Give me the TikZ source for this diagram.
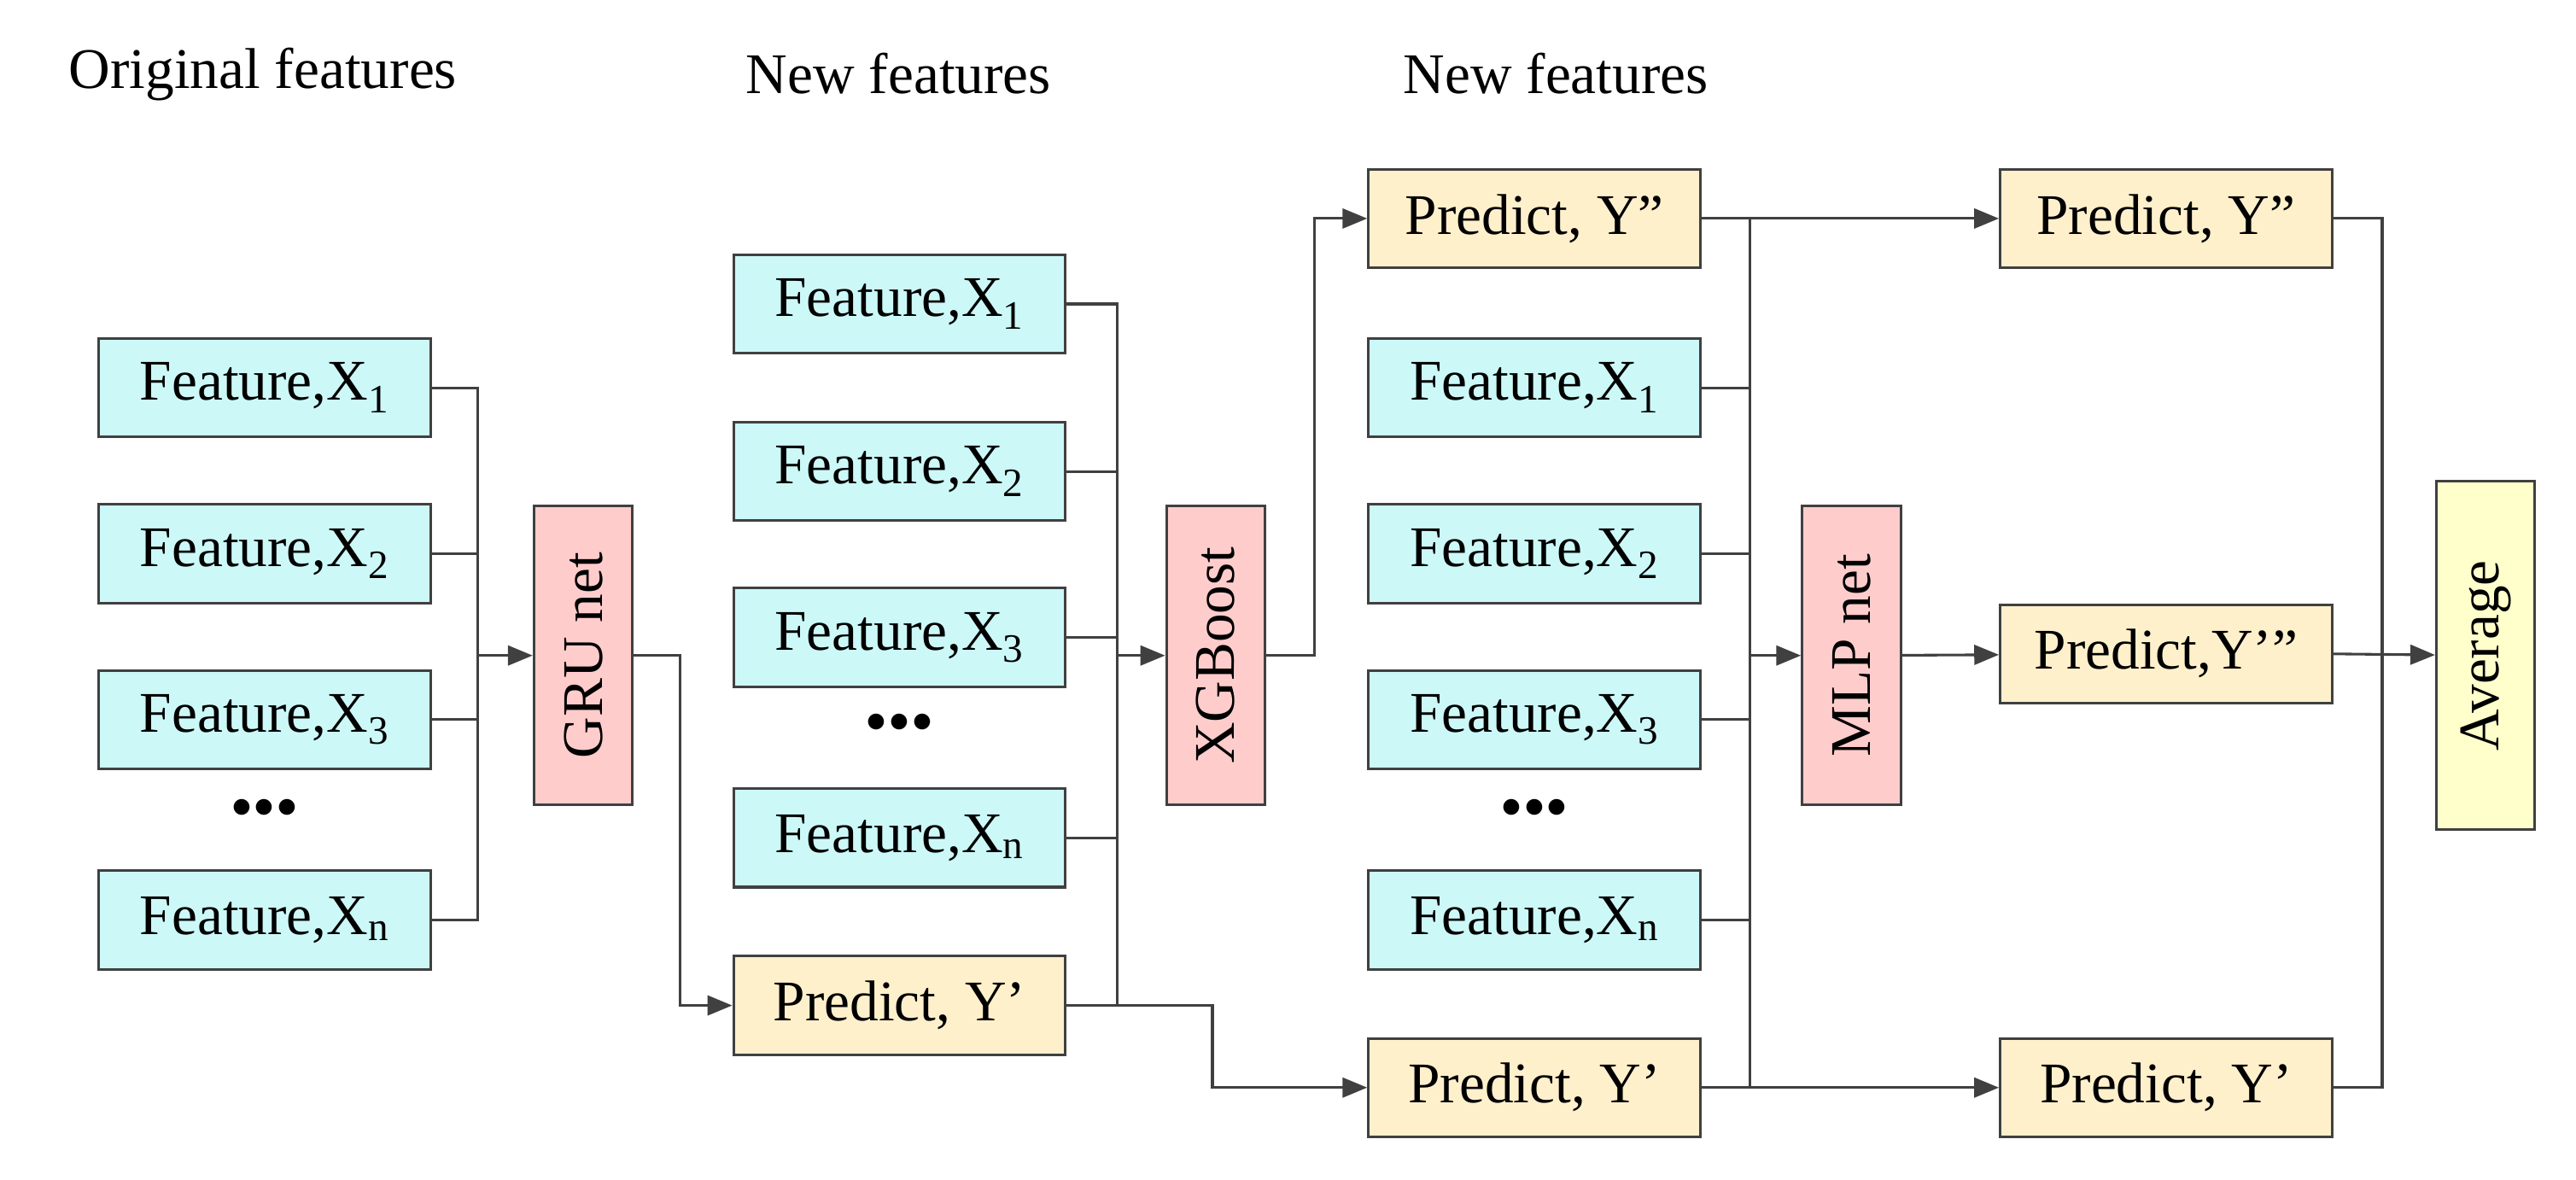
\documentclass[tikz,border=0pt]{standalone}
\usepackage{fontspec}
\setmainfont{Liberation Serif}
\usetikzlibrary{arrows.meta}
\definecolor{cfeat}{HTML}{CCF8F8}
\definecolor{cpred}{HTML}{FFF0CC}
\definecolor{cnet}{HTML}{FFCCCC}
\definecolor{cavg}{HTML}{FFFFCC}
\definecolor{cline}{HTML}{404040}
\newcommand{\sbx}[1]{\textsubscript{#1}}
\begin{document}
\begin{tikzpicture}[x=1pt,y=-1pt,
  font=\fontsize{35}{40}\selectfont,
  box/.style={draw=cline,line width=1.6pt,minimum width=202pt,minimum height=60pt,inner sep=0pt},
  feat/.style={box,fill=cfeat},
  pred/.style={box,fill=cpred},
  net/.style={draw=cline,line width=1.6pt,fill=cnet,rotate=90,minimum width=182pt,minimum height=60pt,inner sep=0pt},
  avg/.style={net,fill=cavg,minimum width=212pt},
  ln/.style={draw=cline,line width=1.6pt},
  arr/.style={ln,-{Triangle[length=15pt,width=12pt]}},
  lab/.style={anchor=center}]
\useasboundingbox (0,0) rectangle (1568,718);
% headings
\node[lab] (h1) at (160,45) {Original features};
\node[lab] (h2) at (547,45) {New features};
\node[lab] (h3) at (947,45) {New features};
% left column
\node[feat] (a1) at (161,236) {Feature,X\sbx{1}};
\node[feat] (a2) at (161,337) {Feature,X\sbx{2}};
\node[feat] (a3) at (161,438) {Feature,X\sbx{3}};
\node[lab] (ad) at (161,492) {$\bullet\!\bullet\!\bullet$};
\node[feat] (an) at (161,560) {Feature,X\sbx{n}};
\node[net] (gru) at (355,399) {GRU net};
% middle column
\node[feat] (b1) at (547.5,185) {Feature,X\sbx{1}};
\node[feat] (b2) at (547.5,287) {Feature,X\sbx{2}};
\node[feat] (b3) at (547.5,388) {Feature,X\sbx{3}};
\node[lab] (bd) at (547.5,440) {$\bullet\!\bullet\!\bullet$};
\node[feat] (bn) at (547.5,510) {Feature,X\sbx{n}};
\node[pred] (bp) at (547.5,612) {Predict,\ Y’};
\node[net] (xgb) at (740,399) {XGBoost};
% third column
\node[pred] (cpp) at (934,133) {Predict,\ Y”};
\node[feat] (c1) at (934,236) {Feature,X\sbx{1}};
\node[feat] (c2) at (934,337) {Feature,X\sbx{2}};
\node[feat] (c3) at (934,438) {Feature,X\sbx{3}};
\node[lab] (cd) at (934,492) {$\bullet\!\bullet\!\bullet$};
\node[feat] (cn) at (934,560) {Feature,X\sbx{n}};
\node[pred] (cp) at (934,662) {Predict,\ Y’};
\node[net] (mlp) at (1127,399) {MLP net};
% right column
\node[pred] (dpp) at (1318.5,133) {Predict,\ Y”};
\node[pred] (dppp) at (1318.5,398) {Predict,Y’”};
\node[pred] (dp) at (1318.5,662) {Predict,\ Y’};
\node[avg] (avg) at (1513,399) {Average};
% coordinates
\coordinate (k1) at (291,399);
\coordinate (g1) at (414,399);
\coordinate (k2) at (680,399);
\coordinate (x1) at (800,399);
\coordinate (m1) at (738,612);
\coordinate (k3) at (1065,399);
\coordinate (k4) at (1450,399);
% left bus
\foreach \n in {a1,a2,a3,an} \draw[ln] (\n.east) -| (k1);
\draw[arr] (k1) -- (gru);
\draw[arr] (gru) -- (g1) |- (bp.west);
% middle bus
\foreach \n in {b1,b2,b3,bn,bp} \draw[ln] (\n.east) -| (k2);
\draw[arr] (k2) -- (xgb);
\draw[arr] (xgb) -- (x1) |- (cpp.west);
\draw[arr] (bp.east) -- (m1) |- (cp.west);
% third bus
\draw[arr] (cpp.east) -- (dpp.west);
\draw[arr] (cp.east) -- (dp.west);
\foreach \n in {cpp,c1,c2,c3,cn,cp} \draw[ln] (\n.east) -| (k3);
\draw[arr] (k3) -- (mlp);
\draw[arr] (mlp) -- (dppp);
% right bus
\foreach \n in {dpp,dp} \draw[ln] (\n.east) -| (k4);
\draw[arr] (dppp.east) -- (avg);
\end{tikzpicture}
\end{document}
